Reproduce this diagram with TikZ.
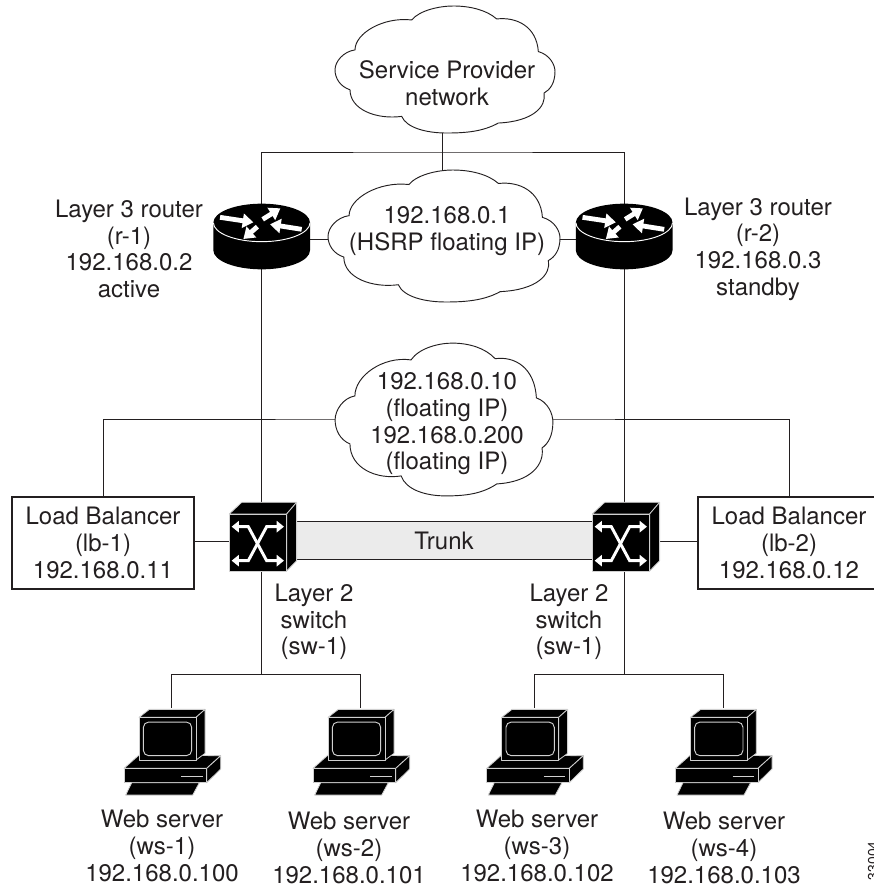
\documentclass[tikz,border=0pt]{standalone}
\usepackage{fontspec}
\setmainfont{TeX Gyre Heros}
\usetikzlibrary{arrows.meta}
\definecolor{ink}{HTML}{231F20}
\definecolor{trunkfill}{HTML}{EBEBEB}
\definecolor{edgegrey}{HTML}{D0D0D0}
\tikzset{
  label text/.style={text=ink,font=\fontsize{18}{20}\selectfont,align=center,inner sep=0pt},
  wire/.style={draw=ink,line width=0.7pt},
  extent/.style={inner sep=0pt,outer sep=0pt},
  lbbox/.style={draw=ink,line width=0.8pt,fill=white,inner sep=0pt,outer sep=0pt,minimum width=182*0.75pt,minimum height=92*0.75pt,text=ink,font=\fontsize{18}{20}\selectfont,align=center},
  cloud line/.style={draw=ink,line width=0.7pt,fill=white},
  icon black/.style={fill=black,draw=edgegrey,line width=0.6pt,line join=round},
  router arrow/.style={white,line width=3.6pt,-{Triangle[length=8pt,width=10.5pt]}},
  switch arrow/.style={white,line width=2.2pt,line join=miter,{Triangle[length=5.5pt,width=8.5pt]}-{Triangle[length=5.5pt,width=8.5pt]}}
}
\newcommand{\cloudat}[4]{%
  \begin{scope}[shift={(#1,#2)},xscale=#3,yscale=#4,shift={(-375,-209)}]
  \path[cloud line] (275,60) .. controls (300,30) and (360,18) .. (400,18)
    .. controls (450,18) and (500,30) .. (530,57)
    .. controls (590,50) and (650,80) .. (655,155)
    .. controls (690,165) and (705,195) .. (705,215)
    .. controls (705,250) and (690,270) .. (672,280)
    .. controls (680,320) and (640,365) .. (535,370)
    .. controls (490,395) and (440,400) .. (380,400)
    .. controls (320,400) and (260,385) .. (245,350)
    .. controls (170,360) and (90,330) .. (90,270)
    .. controls (60,260) and (45,235) .. (45,210)
    .. controls (45,185) and (70,155) .. (105,150)
    .. controls (105,100) and (190,50) .. (275,60) -- cycle;
  \end{scope}}
\newcommand{\routericon}[1]{%
  \begin{scope}[shift={(#1,190)},scale=0.3333,shift={(-185,0)}]
  \fill[black] (40,98) -- (40,181) arc[start angle=180,end angle=0,x radius=145,y radius=57] -- (330,98) -- cycle;
  \fill[black] (185,98) ellipse[x radius=145,y radius=57];
  \draw[white,line width=0.7pt] (40,98) arc[start angle=180,end angle=0,x radius=145,y radius=57];
  \draw[router arrow] (60,82) -- (160,97);
  \draw[router arrow] (188,88) -- (241,55);
  \draw[router arrow] (305,118) -- (210,103);
  \draw[router arrow] (172,110) -- (130,147);
  \end{scope}}
\newcommand{\switchicon}[1]{%
  \begin{scope}[shift={(#1,470)},scale=0.3333]
  \path[icon black] (688,132) -- (725,97) -- (890,97) -- (860,132) -- cycle;
  \path[icon black] (860,132) -- (890,97) -- (890,272) -- (860,303) -- cycle;
  \path[icon black] (688,132) rectangle (860,303);
  \draw[switch arrow] (695,170) -- (745,170) -- (800,272) -- (852,272);
  \draw[switch arrow] (852,170) -- (800,170) -- (745,272) -- (695,272);
  \end{scope}}
\newcommand{\pcicon}[1]{%
  \begin{scope}[shift={(#1,707.7)},scale=0.3333,shift={(-185,-143)}]
  \path[icon black] (87,285) -- (42,325) -- (290,325) -- (332,287) -- cycle;
  \path[icon black] (290,325) -- (332,287) -- (332,327) -- (290,368) -- cycle;
  \path[icon black] (42,325) rectangle (290,368);
  \draw[edgegrey,line width=1pt] (214,349) -- (278,349);
  \path[icon black] (118,148) -- (285,148) -- (258,172) -- (87,172) -- cycle;
  \path[icon black] (258,172) -- (285,148) -- (285,280) -- (258,300) -- cycle;
  \path[icon black] (87,172) rectangle (258,300);
  \draw[edgegrey,line width=0.7pt,rounded corners=4pt] (100,186) rectangle (245,287);
  \path[icon black] (65,368) -- (268,368) -- (248,405) -- (47,405) -- cycle;
  \end{scope}}
\begin{document}
\begin{tikzpicture}[x=0.75pt,y=-0.75pt]
\useasboundingbox (0,0) rectangle (874,886);

% invisible extents of the drawn shapes
\node[extent,minimum width=220*0.75pt,minimum height=127*0.75pt] (sp) at (445,69.5) {};
\node[extent,minimum width=232*0.75pt,minimum height=132*0.75pt] (hsrp) at (444,236) {};
\node[extent,minimum width=218*0.75pt,minimum height=153*0.75pt] (flt) at (444,419.5) {};
\node[extent,minimum width=97*0.75pt,minimum height=65*0.75pt] (r1) at (261.7,236.5) {};
\node[extent,minimum width=97*0.75pt,minimum height=65*0.75pt] (r2) at (624.2,236.5) {};
\node[extent,minimum width=67*0.75pt,minimum height=69*0.75pt] (sw1) at (263,536.5) {};
\node[extent,minimum width=67*0.75pt,minimum height=69*0.75pt] (sw2) at (626,536.5) {};
\coordinate (ws1) at (171.7,707.7);
\coordinate (ws2) at (360.7,707.7);
\coordinate (ws3) at (534.3,707.7);
\coordinate (ws4) at (723,707.7);
\coordinate (busmid) at (442.7,152);
\coordinate (busleft) at (261.7,674.7);
\coordinate (busright) at (624.2,674.7);
\coordinate (fltrow) at (444,419);
\coordinate (hsrprow) at (444,239);
\coordinate (lbrow) at (444,541);

\node[lbbox] (lb1) at (103,543) {Load Balancer\\(lb-1)\\192.168.0.11};
\node[lbbox] (lb2) at (789,543) {Load Balancer\\(lb-2)\\192.168.0.12};

% connectors
\draw[wire] (sp.south -| busmid) -- (hsrp.north -| busmid);
\draw[wire] (r1.north) |- (busmid) -| (r2.north);
\draw[wire] (r1.south) -- (r1.south |- sw1.north);
\draw[wire] (r2.south) -- (r2.south |- sw2.north);
\draw[wire] (r1.east |- hsrprow) -- (r2.west |- hsrprow);
\draw[wire] (lb1.north) |- (fltrow) -| (lb2.north);
\draw[wire] (lb1.east |- lbrow) -- (sw1.west |- lbrow);
\draw[wire] (sw2.east |- lbrow) -- (lb2.west |- lbrow);
\draw[wire] (r1.south |- sw1.south) -- (busleft);
\draw[wire] (r2.south |- sw2.south) -- (busright);
\draw[wire] (ws1) |- (busleft) -| (ws2);
\draw[wire] (ws3) |- (busright) -| (ws4);

% trunk
\node[extent,fill=trunkfill,minimum width=296*0.75pt,minimum height=38*0.75pt] (trunk) at (444,540.5) {};
\draw[wire] (trunk.north west) -- (trunk.north east);
\draw[wire] (trunk.south west) -- (trunk.south east);
\node[label text] (trunktxt) at (444,541) {Trunk};

% clouds
\cloudat{445}{69.5}{0.3333}{0.3325}
\cloudat{444}{236}{0.3515}{0.3455}
\cloudat{444}{419.5}{0.33}{0.40}
\node[label text] (sptxt) at (447,83) {Service Provider\\network};
\node[label text] (hsrptxt) at (447,231) {192.168.0.1\\(HSRP floating IP)};
\node[label text] (flttxt) at (447,424) {192.168.0.10\\(floating IP)\\192.168.0.200\\(floating IP)};

% icons
\routericon{261.7}
\routericon{624.2}
\switchicon{0}
\switchicon{363}
\pcicon{171.7}
\pcicon{360.7}
\pcicon{534.3}
\pcicon{723}

% labels
\node[label text] (r1txt) at (129,249) {Layer 3 router\\(r-1)\\192.168.0.2\\active};
\node[label text] (r2txt) at (758,249) {Layer 3 router\\(r-2)\\192.168.0.3\\standby};
\node[label text] (sw1txt) at (314,622) {Layer 2\\switch\\(sw-1)};
\node[label text] (sw2txt) at (569,622) {Layer 2\\switch\\(sw-1)};
\node[label text] (ws1txt) at (162,846) {Web server\\(ws-1)\\192.168.0.100};
\node[label text] (ws2txt) at (349,848) {Web server\\(ws-2)\\192.168.0.101};
\node[label text] (ws3txt) at (537,846) {Web server\\(ws-3)\\192.168.0.102};
\node[label text] (ws4txt) at (724,848) {Web server\\(ws-4)\\192.168.0.103};
\node[rotate=90,anchor=east,inner sep=0pt,text=ink,font=\fontsize{10.5}{12}\selectfont] (figid) at (873,841) {33004};
\end{tikzpicture}
\end{document}
